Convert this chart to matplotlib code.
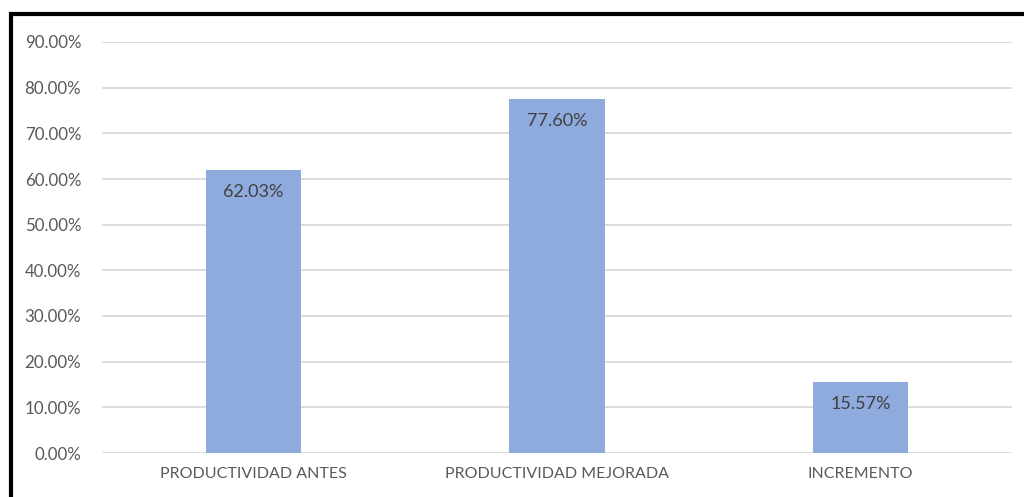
import matplotlib
matplotlib.use("Agg")
import matplotlib.pyplot as plt
from matplotlib.patches import Rectangle
from matplotlib.ticker import FuncFormatter

categories = ["PRODUCTIVIDAD ANTES", "PRODUCTIVIDAD MEJORADA", "INCREMENTO"]
values = [0.6203, 0.7760, 0.1557]
y_ticks = [0.0, 0.1, 0.2, 0.3, 0.4, 0.5, 0.6, 0.7, 0.8, 0.9]

plt.rcParams["font.family"] = ["Lato", "DejaVu Sans"]

fig = plt.figure(figsize=(10.24, 4.97), dpi=100)
W, H = 1024, 497
ax = fig.add_axes([102 / W, 1 - 453 / H, (1012 - 102) / W, (453 - 42) / H])

x = range(len(categories))
bars = ax.bar(x, values, width=0.315, color="#8FAADC", zorder=3)

ax.set_xlim(-0.5, len(categories) - 0.5)
ax.set_ylim(0, 0.9)
ax.set_yticks(y_ticks)
ax.yaxis.set_major_formatter(FuncFormatter(lambda v, _: f"{v * 100:.2f}%"))
ax.set_xticks(list(x))
ax.set_xticklabels(categories)

ax.grid(axis="y", color="#D9D9D9", linewidth=1.3, zorder=0)
for s in ax.spines.values():
    s.set_visible(False)
ax.tick_params(axis="both", length=0, colors="#595959")
ax.tick_params(axis="y", pad=15, labelsize=12.2)
ax.tick_params(axis="x", pad=10, labelsize=11.5)

for b, v in zip(bars, values):
    ax.annotate(f"{v * 100:.2f}%", (b.get_x() + b.get_width() / 2, v),
                xytext=(0, -10), textcoords="offset points",
                ha="center", va="top", fontsize=13, color="#404040", zorder=4)

# frame drawn around the chart
fig.patches.append(Rectangle((11 / W, -0.1), 1.2, 1.1 - 14 / H,
                             transform=fig.transFigure, fill=False,
                             edgecolor="black", linewidth=3))

fig.savefig("out.png", dpi=100, facecolor="white")
